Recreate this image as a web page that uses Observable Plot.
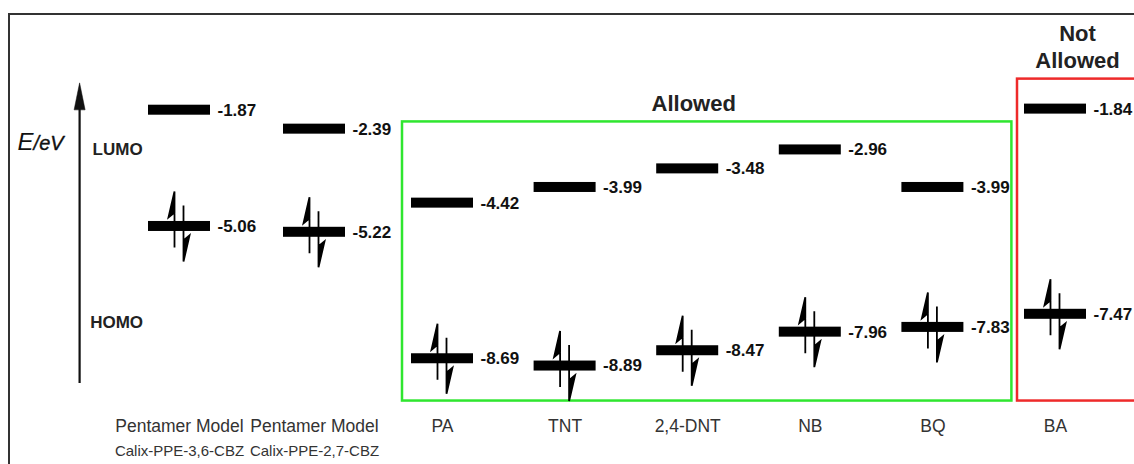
<!DOCTYPE html>
<html>
<head>
<meta charset="utf-8">
<script src="https://cdn.jsdelivr.net/npm/d3@7"></script>
<script src="https://cdn.jsdelivr.net/npm/@observablehq/plot@0.6"></script>
<style>
  html, body { margin: 0; padding: 0; background: #fff; }
  #wrap { position: relative; width: 1134px; height: 464px; overflow: hidden; background: #fff; }
  #chart { position: absolute; left: 0; top: 0; }
  #border { position: absolute; left: 8px; top: 13px; width: 1400px; height: 800px;
            border: 2.5px solid #333; box-sizing: border-box; pointer-events: none; }
</style>
</head>
<body>
<div id="wrap"><div id="chart"></div><div id="border"></div></div>
<script>
// ---- data ----
const categories = ["Pentamer Model", "Pentamer Model", "PA", "TNT", "2,4-DNT", "NB", "BQ", "BA"];
const subtitles  = ["Calix-PPE-3,6-CBZ", "Calix-PPE-2,7-CBZ", "", "", "", "", "", ""];
const lumo = [-1.87, -2.39, -4.42, -3.99, -3.48, -2.96, -3.99, -1.84];
const homo = [-5.06, -5.22, -8.69, -8.89, -8.47, -7.96, -7.83, -7.47];
const groups = [null, null, "Allowed", "Allowed", "Allowed", "Allowed", "Allowed", "Not Allowed"];
const groupTitles = ["Allowed", "Not\nAllowed"];
const levelNames = ["LUMO", "HOMO"];

// ---- tables built from the arrays ----
const data = categories.map((name, i) => ({i, name, sub: subtitles[i], lumo: lumo[i], homo: homo[i], group: groups[i]}));
const levels = data.flatMap(d => [{i: d.i, kind: "LUMO", e: d.lumo}, {i: d.i, kind: "HOMO", e: d.homo}]);
const homos = levels.filter(d => d.kind === "HOMO");
const lowest = d3.min(homo);
function box(g) {
  const ds = data.filter(d => d.group === g);
  return {group: g, x1: d3.min(ds, d => d.i), x2: d3.max(ds, d => d.i), xm: d3.mean(ds, d => d.i),
          top: d3.max(ds, d => d.lumo), bottom: lowest};
}
const allowed = box("Allowed");
const notAllowed = box("Not Allowed");
const lumoLabel = {kind: levelNames[0], e: d3.mean(lumo)};
const homoLabel = {kind: levelNames[1], e: d3.mean(homo)};

// energy axis arrow (annotation, in column / eV units)
const axisArrow = {x: -0.74, from: -9.37, to: -1.12};

// ---- custom glyphs ----
const electronPair = {
  draw(ctx) {
    // spin-up half arrow
    ctx.moveTo(-5, 21); ctx.lineTo(-5, -35);
    ctx.moveTo(-5, -35); ctx.lineTo(-11, -9); ctx.lineTo(-5, -14); ctx.closePath();
    // spin-down half arrow
    ctx.moveTo(4, -21); ctx.lineTo(4, 35);
    ctx.moveTo(4, 35); ctx.lineTo(10, 9); ctx.lineTo(4, 14); ctx.closePath();
  }
};
const arrowHead = {
  draw(ctx) { ctx.moveTo(0, 0); ctx.lineTo(5.5, 27); ctx.lineTo(-5.5, 27); ctx.closePath(); }
};

const font = "'Liberation Sans', Arial, Helvetica, sans-serif";

const plot = Plot.plot({
  width: 1134,
  height: 464,
  marginTop: 78,
  marginBottom: 58,
  marginLeft: 0,
  marginRight: 0,
  style: {fontFamily: font, background: "transparent", color: "#111"},
  x: {type: "linear", domain: [0, 1, 2, 7], range: [179, 314, 442, 1055], axis: null},
  y: {domain: [-10, -1], axis: null},
  marks: [
    // group boxes
    Plot.rect([allowed], {x1: "x1", x2: "x2", y1: "bottom", y2: "top",
      insetLeft: -40, insetRight: -79, insetTop: -28, insetBottom: -35,
      fill: "none", stroke: "#2fe62f", strokeWidth: 2.5}),
    Plot.rect([notAllowed], {x1: "x1", x2: "x2", y1: "bottom", y2: "top",
      insetLeft: -38, insetRight: -120, insetTop: -30, insetBottom: -35,
      fill: "none", stroke: "#ee2a2a", strokeWidth: 2.5}),
    Plot.text([allowed], {x: "xm", y: "top", text: () => groupTitles[0], dx: 6, dy: -46,
      fontSize: 22, fontWeight: "bold", fill: "#222"}),
    Plot.text([notAllowed], {x: "xm", y: "top", text: () => groupTitles[1], dx: 22, dy: -63,
      fontSize: 22, fontWeight: "bold", fill: "#222", lineHeight: 1.23}),

    // energy axis arrow
    Plot.ruleX([axisArrow], {x: "x", y1: "to", y2: "from", insetTop: 22, stroke: "#111", strokeWidth: 2.2}),
    Plot.dot([axisArrow], {x: "x", y: "to", symbol: arrowHead, r: 10, fill: "#111", stroke: "#111", strokeWidth: 0.5}),
    Plot.text([lumoLabel], {x: () => axisArrow.x, y: "e", text: () => "E", dx: -62, dy: -6,
      textAnchor: "start", lineAnchor: "bottom", fontSize: 24, fontStyle: "italic", fill: "#111"}),
    Plot.text([lumoLabel], {x: () => axisArrow.x, y: "e", text: () => "/eV", dx: -46, dy: -6,
      textAnchor: "start", lineAnchor: "bottom", fontSize: 20, fontStyle: "italic", fill: "#111",
      stroke: "#111", strokeWidth: 0.4}),
    Plot.text([lumoLabel], {x: () => axisArrow.x, y: "e", text: "kind", dx: 38, dy: -6,
      fontSize: 17, fontWeight: "bold", fill: "#222"}),
    Plot.text([homoLabel], {x: () => axisArrow.x, y: "e", text: "kind", dx: 37, dy: 9,
      fontSize: 17, fontWeight: "bold", fill: "#222"}),

    // orbital levels
    Plot.rect(levels, {x1: "i", x2: "i", y1: "e", y2: "e",
      insetLeft: -31, insetRight: -31, insetTop: -5, insetBottom: -5, fill: "#000"}),
    Plot.dot(homos, {x: "i", y: "e", symbol: electronPair, r: 10,
      fill: "#000", stroke: "#000", strokeWidth: 1.8}),
    Plot.text(levels, {x: "i", y: "e", text: d => d.e.toFixed(2), dx: 38, textAnchor: "start",
      fontSize: 17, fontWeight: "bold", fill: "#111"}),

    // category labels
    Plot.text(data, {x: "i", text: "name", frameAnchor: "bottom", lineAnchor: "bottom", dy: 25,
      fontSize: 17.5, fill: "#333"}),
    Plot.text(data, {x: "i", text: "sub", frameAnchor: "bottom", lineAnchor: "bottom", dy: 49,
      fontSize: 15, fill: "#333"})
  ]
});
document.getElementById("chart").appendChild(plot);
</script>
</body>
</html>
